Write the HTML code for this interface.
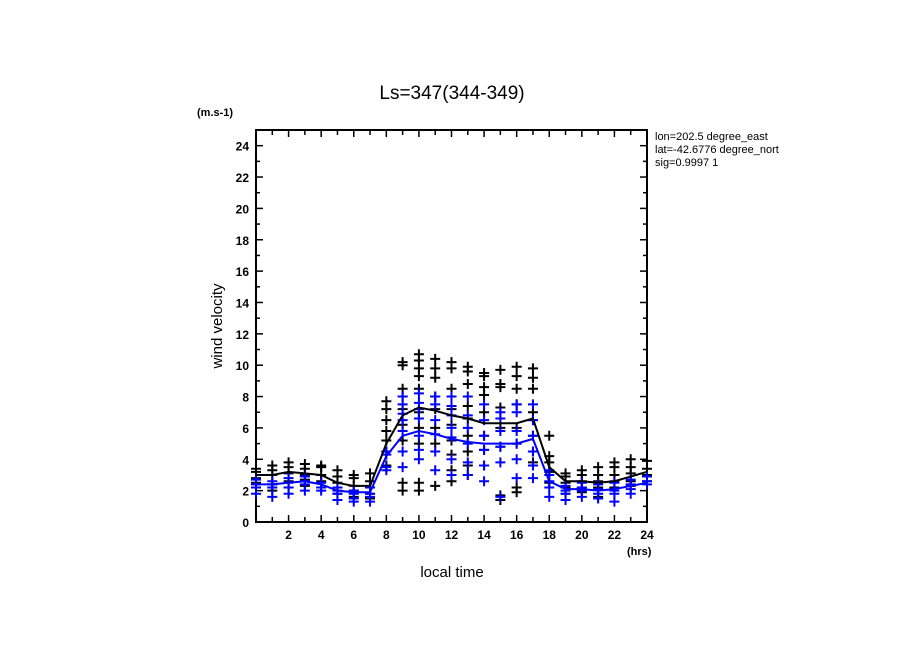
<!DOCTYPE html>
<html><head><meta charset="utf-8"><style>
body{margin:0;background:#fff;width:904px;height:654px;overflow:hidden}
svg text{font-family:"Liberation Sans",sans-serif}
</style></head><body>
<svg id="chart" width="904" height="654">
<defs><clipPath id="infoclip"><rect x="650" y="125" width="129" height="50"/></clipPath></defs>
<text x="452" y="99" font-size="19" text-anchor="middle">Ls=347(344-349)</text>
<text x="197" y="116" font-size="11" font-weight="bold">(m.s-1)</text>
<g clip-path="url(#infoclip)">
<text x="655" y="140" font-size="11">lon=202.5 degree_east</text>
<text x="655" y="153" font-size="11">lat=-42.6776 degree_north</text>
<text x="655" y="166" font-size="11">sig=0.9997 1</text>
</g>
<text x="222" y="326" font-size="15" text-anchor="middle" transform="rotate(-90 222 326)">wind velocity</text>
<text x="452" y="577" font-size="15" text-anchor="middle">local time</text>
<text x="627" y="555" font-size="11" font-weight="bold">(hrs)</text>
<rect x="256" y="130" width="391" height="392" fill="none" stroke="#000" stroke-width="2"/>
<g id="axes"></g><g id="marks"></g>
</svg>
<script>
const hours=[0,1,2,3,4,5,6,7,8,9,10,11,12,13,14,15,16,17,18,19,20,21,22,23,24];
const blackMean=[3.0,3.0,3.2,3.1,3.0,2.5,2.3,2.3,5.0,6.8,7.3,7.1,6.8,6.6,6.3,6.3,6.3,6.6,3.5,2.6,2.6,2.5,2.6,2.9,3.2];
const blueMean=[2.4,2.4,2.5,2.6,2.4,2.0,1.9,1.9,4.2,5.5,5.8,5.6,5.3,5.1,5.0,5.0,5.0,5.3,2.6,2.1,2.1,2.0,2.1,2.3,2.5];
const blackPts=[[3.4,3.2,2.8,2.5,2.2],[3.6,3.3,3.0,2.4,2.0],[3.8,3.5,3.1,2.6,2.2],[3.7,3.4,3.0,2.7,2.3],[3.6,3.5,3.0,2.6],[3.3,2.9,2.5,2.2,1.8],[3.0,2.8,2.3,2.0,1.6],[3.1,2.6,2.2,1.8,1.5],[7.7,7.2,6.5,5.8,5.2,4.5,3.6],[10.2,10.0,8.5,8.0,7.2,6.2,5.2,2.5,2.0],[10.7,10.3,9.8,9.3,8.5,7.0,6.0,5.0,2.5,2.0],[10.4,9.8,9.2,8.0,7.2,6.0,5.0,2.3],[10.2,9.8,8.5,7.2,6.2,5.2,4.3,3.3,2.6],[9.9,9.6,8.8,7.4,6.6,5.5,4.5,3.6,3.0],[9.5,9.3,8.6,8.1,7.0,5.5,4.6,3.6],[9.7,8.8,8.6,7.3,6.0,4.8,1.7,1.4],[9.9,9.3,8.5,7.5,6.0,5.0,2.2,1.9],[9.8,9.2,8.5,7.0,6.5,5.5,4.5,3.8],[5.5,4.2,3.8,3.2,2.5],[3.1,2.9,2.5,2.2,1.8],[3.3,3.0,2.6,2.2,1.9],[3.5,3.0,2.6,2.2,1.6],[3.8,3.5,3.0,2.6,2.2],[4.0,3.5,3.1,2.6,2.3],[3.9,3.4,3.0,2.6]];
const bluePts=[[2.7,2.4,2.2,1.8],[2.6,2.4,2.2,1.6],[2.8,2.5,2.2,1.8],[2.9,2.6,2.4,2.0],[2.5,2.2,2.0],[2.2,2.0,1.8,1.4],[2.0,1.8,1.5,1.3],[2.2,1.8,1.6,1.3],[4.5,4.3,3.5,3.3],[8.0,7.5,6.9,6.5,5.8,4.5,3.5],[8.2,7.6,7.2,6.6,5.5,4.6,4.0],[8.0,7.5,6.5,5.6,4.5,3.3],[8.0,7.4,6.8,6.0,5.4,4.0,3.0],[8.0,6.8,6.0,5.0,3.8,3.0],[7.5,6.5,5.5,4.6,3.6,2.6],[7.0,6.6,5.8,4.8,3.8,1.6],[7.5,7.0,5.8,5.0,4.0,2.8],[7.5,6.5,5.5,4.5,3.6,2.8],[3.3,3.0,2.6,2.2,1.6],[2.3,2.0,1.8,1.4],[2.5,2.2,2.0,1.6],[2.4,2.1,1.8,1.5],[2.5,2.0,1.8,1.3],[2.7,2.4,2.1,1.8],[2.9,2.6,2.4]];
const yTicks=[0,2,4,6,8,10,12,14,16,18,20,22,24];
const xTicks=[2,4,6,8,10,12,14,16,18,20,22,24];
const NS="http://www.w3.org/2000/svg";
const X0=256,X1=647,Y0=522,Y1=130;
function xs(h){return X0+h*(X1-X0)/24;}
function ys(v){return Y0-v*(Y0-Y1)/25;}
function mk(tag,attrs,parent){const e=document.createElementNS(NS,tag);for(const k in attrs)e.setAttribute(k,attrs[k]);parent.appendChild(e);return e;}
const ax=document.getElementById('axes'),mg=document.getElementById('marks');
for(let v=0;v<=25;v++){const y=ys(v),L=v%2===0?7:4;
 const t1=mk('line',{x1:X0,x2:X0+L,y1:y,y2:y,stroke:'#000','stroke-width':1.5},ax);
 
 const t2=mk('line',{x1:X1,x2:X1-L,y1:y,y2:y,stroke:'#000','stroke-width':1.5},ax);
 }
yTicks.forEach(v=>{const t=mk('text',{x:X0-7,y:ys(v)+5,'font-size':12,'font-weight':'bold','text-anchor':'end'},ax);t.textContent=v;
 });
for(let h=0;h<=24;h++){const x=xs(h),L=h%2===0?7:5;
 const t1=mk('line',{x1:x,x2:x,y1:Y0,y2:Y0-L,stroke:'#000','stroke-width':1.5},ax);
 
 const t2=mk('line',{x1:x,x2:x,y1:Y1,y2:Y1+L,stroke:'#000','stroke-width':1.5},ax);
 }
xTicks.forEach(h=>{const t=mk('text',{x:xs(h),y:Y0+17,'font-size':12,'font-weight':'bold','text-anchor':'middle'},ax);t.textContent=h;
 });
function crosses(pts,color,name){pts.forEach((arr,i)=>arr.forEach(v=>{const x=xs(hours[i]),y=ys(v);
 const p=mk('path',{d:`M${x-5} ${y}H${x+5}M${x} ${y-5}V${y+5}`,stroke:color,'stroke-width':2},mg);
 }));}
crosses(blackPts,'#000','black-cross');
crosses(bluePts,'#0000ff','blue-cross');
function line(vals,color,name){const d=vals.map((v,i)=>(i?'L':'M')+xs(hours[i])+' '+ys(v)).join('');
 const p=mk('path',{d:d,stroke:color,'stroke-width':2,fill:'none'},mg);
 }
line(blackMean,'#000','black-mean-line');
line(blueMean,'#0000ff','blue-mean-line');
</script>
</body></html>
